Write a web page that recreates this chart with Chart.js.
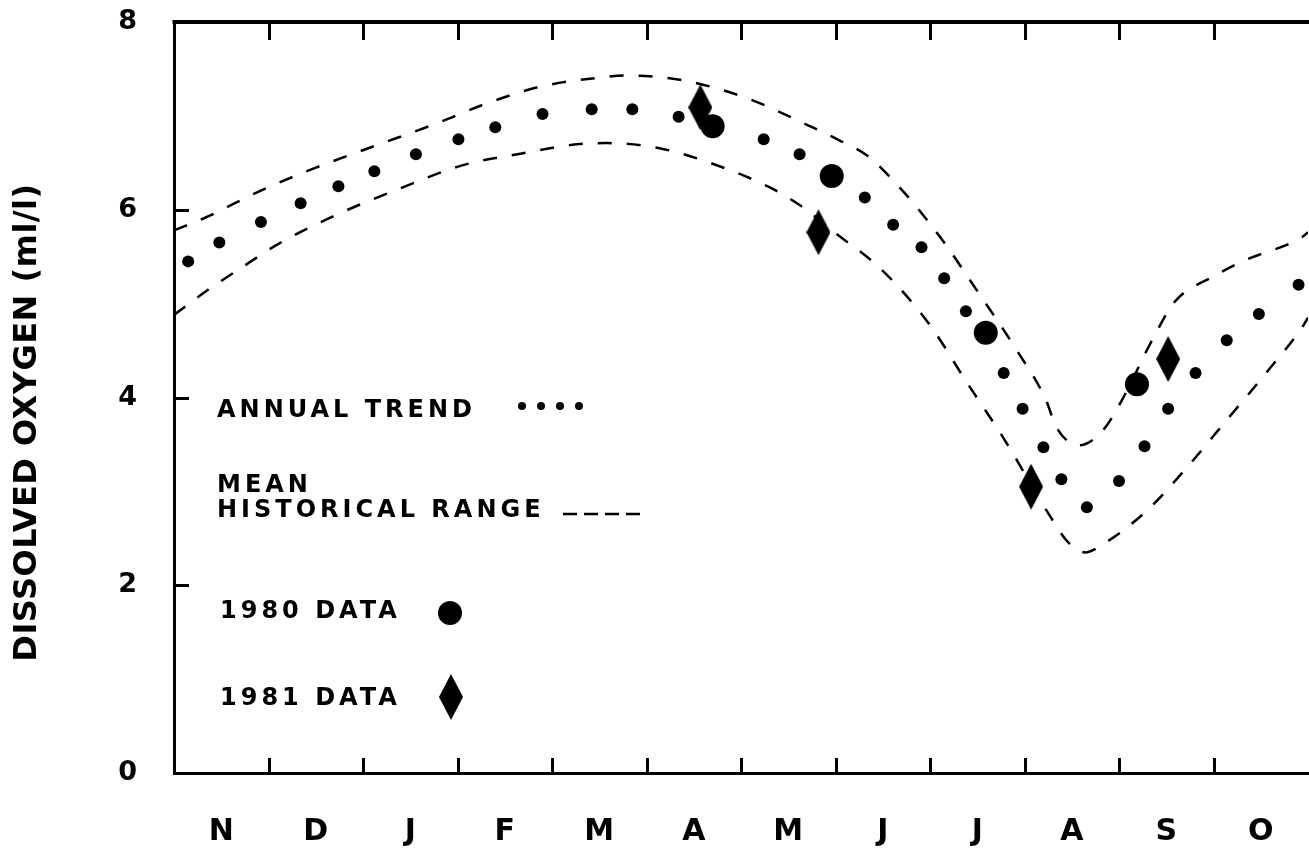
<!DOCTYPE html>
<html>
<head>
<meta charset="utf-8">
<script src="https://cdn.jsdelivr.net/npm/chart.js@4/dist/chart.umd.min.js"></script>
<style>
  html, body { margin: 0; padding: 0; background: #fff; }
  #wrap { width: 1309px; height: 848px; position: relative; }
  canvas { display: block; }
</style>
</head>
<body>
<div id="wrap"><canvas id="c" width="1309" height="848"></canvas></div>
<script>
// Months along the x axis, starting with November (x = 0 at 1 Nov, 12 at 31 Oct)
const monthLabels = ['N', 'D', 'J', 'F', 'M', 'A', 'M', 'J', 'J', 'A', 'S', 'O'];
const yTickValues = [0, 2, 4, 6, 8];

// Annual trend of dissolved oxygen (ml/l)
const trendX = [0.15, 0.48, 0.92, 1.34, 1.74, 2.12, 2.56, 3.01, 3.40, 3.90, 4.42, 4.85, 5.34,
                6.24, 6.62, 7.31, 7.61, 7.91, 8.15, 8.38, 8.78, 8.98, 9.20, 9.39, 9.66,
                10.00, 10.27, 10.52, 10.81, 11.14, 11.48, 11.90];
const trendY = [5.45, 5.65, 5.87, 6.07, 6.25, 6.41, 6.59, 6.75, 6.88, 7.02, 7.07, 7.07, 6.99,
                6.75, 6.59, 6.13, 5.84, 5.60, 5.27, 4.92, 4.26, 3.88, 3.47, 3.13, 2.83,
                3.11, 3.48, 3.88, 4.26, 4.61, 4.89, 5.20];

// Mean historical range: upper and lower bounds
const upperX = [0, 0.34, 0.93, 1.48, 2.07, 2.78, 3.25, 3.87, 4.53, 4.80, 5.16, 5.48, 6.06, 6.71,
                7.04, 7.33, 7.73, 8.15, 8.51, 8.92, 9.22, 9.34, 9.57, 9.83, 10.03, 10.35,
                10.59, 11.00, 11.33, 11.94, 12];
const upperY = [5.78, 5.92, 6.21, 6.44, 6.66, 6.92, 7.11, 7.31, 7.41, 7.43, 7.41, 7.36, 7.19, 6.90,
                6.74, 6.58, 6.18, 5.65, 5.12, 4.50, 3.99, 3.68, 3.49, 3.65, 3.97, 4.61,
                5.02, 5.29, 5.46, 5.71, 5.76];
const lowerX = [0, 0.35, 0.71, 1.11, 1.75, 2.40, 3.04, 3.68, 4.29, 4.59, 5.16, 5.70, 6.30, 6.62,
                7.00, 7.49, 8.00, 8.39, 8.77, 9.30, 9.46, 9.64, 9.85, 10.30, 10.68, 11.14,
                11.58, 11.94, 12];
const lowerY = [4.88, 5.14, 5.38, 5.64, 5.96, 6.23, 6.47, 6.60, 6.70, 6.71, 6.65, 6.49, 6.24, 6.05,
                5.75, 5.36, 4.77, 4.16, 3.58, 2.69, 2.46, 2.35, 2.45, 2.80, 3.21, 3.76,
                4.29, 4.75, 4.85];

// Observations
const data1980X = [5.70, 6.96, 8.59, 10.19];
const data1980Y = [6.89, 6.36, 4.69, 4.14];
const data1981X = [5.57, 6.82, 9.07, 10.52];
const data1981Y = [7.09, 5.76, 3.05, 4.41];

const pts = (xs, ys) => xs.map((x, i) => ({ x: x, y: ys[i] }));

const INK = '#000';
const FONT = '"DejaVu Sans", "Liberation Sans", Arial, sans-serif';

// Tall diamond marker used for the 1981 observations
function makeDiamond(w, h) {
  const c = document.createElement('canvas');
  c.width = w; c.height = h;
  const g = c.getContext('2d');
  g.fillStyle = INK;
  g.beginPath();
  g.moveTo(w / 2, 0);
  g.lineTo(w, h / 2);
  g.lineTo(w / 2, h);
  g.lineTo(0, h / 2);
  g.closePath();
  g.fill();
  return c;
}
const diamond = makeDiamond(24, 46);

// No extra room around the axes: the plot area is set by the fixed axis sizes
function noScalePadding(scale) {
  scale.paddingTop = 0;
  scale.paddingBottom = 0;
  scale.paddingLeft = 0;
  scale.paddingRight = 0;
}

// Frame ticks, y-axis title and the in-plot key
const framePlugin = {
  id: 'frame',
  afterDraw(chart) {
    const { ctx, chartArea: a, scales } = chart;
    const xs = scales.x, ys = scales.y;
    ctx.save();
    ctx.strokeStyle = INK;
    ctx.lineCap = 'butt';

    // top border
    ctx.lineWidth = 4;
    ctx.beginPath();
    ctx.moveTo(a.left - 1.5, a.top);
    ctx.lineTo(a.right + 2, a.top);
    ctx.stroke();

    // month boundary ticks, top and bottom
    ctx.lineWidth = 3;
    for (let k = 1; k < monthLabels.length; k++) {
      const px = Math.round(xs.getPixelForValue(k)) + 0.5;
      ctx.beginPath();
      ctx.moveTo(px, a.top);
      ctx.lineTo(px, a.top + 18);
      ctx.moveTo(px, a.bottom);
      ctx.lineTo(px, a.bottom - 15);
      ctx.stroke();
    }
    // y ticks on the left axis
    yTickValues.filter(v => v > 0 && v < 8).forEach(v => {
      const py = Math.round(ys.getPixelForValue(v)) + 0.5;
      ctx.beginPath();
      ctx.moveTo(a.left, py);
      ctx.lineTo(a.left + 15, py);
      ctx.stroke();
    });

    // y-axis title
    ctx.fillStyle = INK;
    ctx.save();
    ctx.translate(28, (ys.getPixelForValue(8) + ys.getPixelForValue(0)) / 2 + 25);
    ctx.rotate(-Math.PI / 2);
    ctx.font = 'bold 32px ' + FONT;
    ctx.letterSpacing = '0.5px';
    ctx.textAlign = 'center';
    ctx.textBaseline = 'middle';
    ctx.fillText('DISSOLVED OXYGEN (ml/l)', 0, 0);
    ctx.restore();

    // key
    ctx.font = 'bold 24px ' + FONT;
    ctx.letterSpacing = '4px';
    ctx.textAlign = 'left';
    ctx.textBaseline = 'alphabetic';
    ctx.fillText('ANNUAL TREND', 217, 417);
    ctx.fillText('MEAN', 217, 492);
    ctx.fillText('HISTORICAL RANGE', 217, 517);
    ctx.fillText('1980 DATA', 220, 618);
    ctx.fillText('1981 DATA', 220, 705);

    [522, 541, 560, 579].forEach(cx => {
      ctx.beginPath();
      ctx.arc(cx, 406, 4, 0, Math.PI * 2);
      ctx.fill();
    });

    ctx.lineWidth = 2.5;
    ctx.setLineDash([14, 7]);
    ctx.beginPath();
    ctx.moveTo(563, 514);
    ctx.lineTo(644, 514);
    ctx.stroke();
    ctx.setLineDash([]);

    ctx.beginPath();
    ctx.arc(450, 613, 12, 0, Math.PI * 2);
    ctx.fill();
    ctx.drawImage(diamond, 451 - 12, 697 - 23);

    ctx.restore();
  }
};

const rangeStyle = {
  type: 'line',
  borderColor: INK,
  borderWidth: 2.5,
  borderDash: [14, 15],
  pointRadius: 0,
  fill: false,
  cubicInterpolationMode: 'monotone'
};

new Chart(document.getElementById('c'), {
  type: 'scatter',
  data: {
    datasets: [
      Object.assign({ label: 'Upper historical range', data: pts(upperX, upperY) }, rangeStyle),
      Object.assign({ label: 'Lower historical range', data: pts(lowerX, lowerY) }, rangeStyle),
      {
        label: 'Annual trend',
        data: pts(trendX, trendY),
        showLine: false,
        pointRadius: 6,
        pointBackgroundColor: INK,
        pointBorderWidth: 0
      },
      {
        label: '1980 data',
        data: pts(data1980X, data1980Y),
        showLine: false,
        pointRadius: 12,
        pointBackgroundColor: INK,
        pointBorderWidth: 0
      },
      {
        label: '1981 data',
        data: pts(data1981X, data1981Y),
        showLine: false,
        pointStyle: diamond,
        pointRadius: 12
      }
    ]
  },
  options: {
    responsive: false,
    animation: false,
    devicePixelRatio: 1,
    layout: { autoPadding: false, padding: { top: 22, right: 1, left: 0, bottom: 0 } },
    plugins: { legend: { display: false }, tooltip: { enabled: false } },
    scales: {
      x: {
        type: 'linear',
        min: 0,
        max: 12,
        afterBuildTicks(scale) {
          scale.ticks = monthLabels.map((m, i) => ({ value: i + 0.5 }));
        },
        afterFit(scale) { scale.height = 75; noScalePadding(scale); },
        ticks: {
          autoSkip: false,
          maxRotation: 0,
          padding: 41,
          color: INK,
          font: { family: FONT, size: 30, weight: 'bold' },
          callback: (v, i) => monthLabels[i]
        },
        grid: { display: false, drawTicks: false },
        border: { display: true, color: INK, width: 3 }
      },
      y: {
        type: 'linear',
        min: 0,
        max: 8,
        afterBuildTicks(scale) {
          scale.ticks = yTickValues.map(v => ({ value: v }));
        },
        afterFit(scale) { scale.width = 174; noScalePadding(scale); },
        ticks: {
          padding: 37,
          color: INK,
          font: { family: FONT, size: 27, weight: 'bold' }
        },
        grid: { display: false, drawTicks: false },
        border: { display: true, color: INK, width: 3 }
      }
    }
  },
  plugins: [framePlugin]
});
</script>
</body>
</html>
